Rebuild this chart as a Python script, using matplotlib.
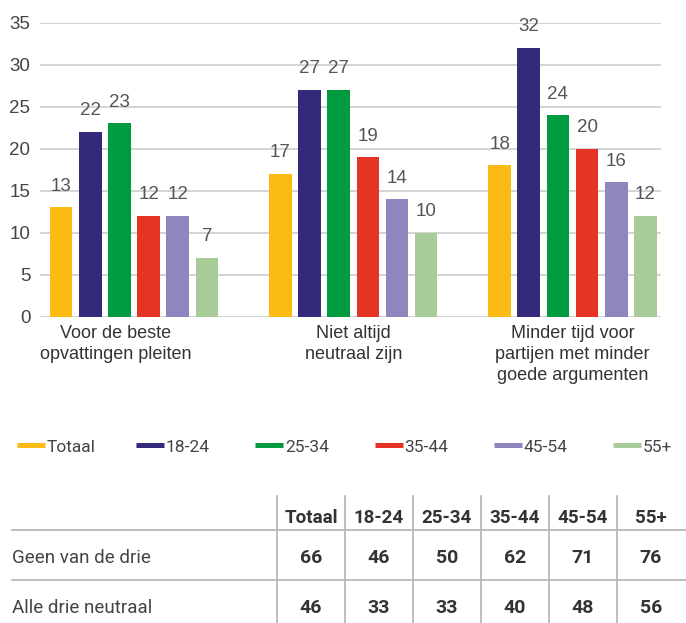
import matplotlib
matplotlib.use("Agg")
import matplotlib.pyplot as plt
import matplotlib.transforms as mtransforms
from matplotlib.lines import Line2D
import numpy as np

# 数据
categories = ["Voor de beste\nopvattingen pleiten",
              "Niet altijd\nneutraal zijn",
              "Minder tijd voor\npartijen met minder\ngoede argumenten"]
series_names = ["Totaal", "18-24", "25-34", "35-44", "45-54", "55+"]
totaal = [13, 17, 18]
age_18_24 = [22, 27, 32]
age_25_34 = [23, 27, 24]
age_35_44 = [12, 19, 20]
age_45_54 = [12, 14, 16]
age_55_plus = [7, 10, 12]
series_values = [totaal, age_18_24, age_25_34, age_35_44, age_45_54, age_55_plus]
colors = ["#FBBA14", "#332A7C", "#009B3E", "#E63323", "#8E86BC", "#A8CC98"]
y_ticks = [0, 5, 10, 15, 20, 25, 30, 35]

table_header = ["Totaal", "18-24", "25-34", "35-44", "45-54", "55+"]
table_rows = ["Geen van de drie", "Alle drie neutraal"]
geen_van_de_drie = [66, 46, 50, 62, 71, 76]
alle_drie_neutraal = [46, 33, 33, 40, 48, 56]
table_values = [geen_van_de_drie, alle_drie_neutraal]

W, H = 686, 623
chart_font = ["Liberation Sans", "DejaVu Sans"]
table_font = ["Roboto", "DejaVu Sans"]
text_col = "#444444"

fig = plt.figure(figsize=(W / 100, H / 100), dpi=100)

# 柱状图区域
ax = fig.add_axes([40 / W, 1 - 316.7 / H, 621 / W, 294 / H])
x = np.arange(len(categories))
bar_w = 0.103
step = 0.133
for k, (vals, col) in enumerate(zip(series_values, colors)):
    pos = x + (k - 2.5) * step
    ax.bar(pos, vals, width=bar_w, color=col, zorder=3)
    for px, v in zip(pos, vals):
        ax.annotate(str(v), (px, v), xytext=(0, 9), textcoords="offset points",
                    ha="center", va="bottom", fontsize=13.5, color="#555555",
                    family=chart_font)

ax.set_ylim(0, 35)
ax.set_xlim(-0.4287, 2.4036)
ax.set_yticks(y_ticks)
ax.set_yticklabels([str(t) for t in y_ticks], family=chart_font, fontsize=13.5, color=text_col)
ax.set_xticks(x)
ax.set_xticklabels(categories, family=chart_font, fontsize=13, color="#333333",
                   linespacing=1.3)
ax.tick_params(axis="both", length=0)
ax.tick_params(axis="y", pad=7)
ax.tick_params(axis="x", pad=6)
ax.yaxis.grid(True, color="#cccccc", lw=1.2, zorder=0)
for s in ax.spines.values():
    s.set_visible(False)
# 第一个类别标签在原图中稍微偏左
first = ax.get_xticklabels()[0]
first.set_transform(first.get_transform() +
                    mtransforms.ScaledTranslation(-0.18, 0, fig.dpi_scale_trans))

# 图例和表格用像素坐标的覆盖层
ov = fig.add_axes([0, 0, 1, 1], zorder=-1)
ov.set_xlim(0, W)
ov.set_ylim(H, 0)
ov.axis("off")

for i, (name, col) in enumerate(zip(series_names, colors)):
    x0 = 17 + 119.2 * i
    ov.add_line(Line2D([x0, x0 + 28], [445, 445], color=col, lw=3.6, solid_capstyle="butt"))
    ov.text(x0 + 29.5, 447, name, ha="left", va="center", fontsize=12.5,
            color=text_col, family=table_font)

col_lines = [277, 345, 413, 481, 549, 617]
col_centers = [c + 34 for c in col_lines]
for cx in col_lines:
    ov.add_line(Line2D([cx, cx], [496, H], color="#b3b3b3", lw=1.2))
for hy in [530, 580]:
    ov.add_line(Line2D([12, W], [hy, hy], color="#b3b3b3", lw=1.2))

for cx, h in zip(col_centers, table_header):
    ov.text(cx, 518, h, ha="center", va="center", fontsize=13.5, fontweight="bold",
            color="#333333", family=table_font)
for ry, label, vals in zip([558, 608], table_rows, table_values):
    ov.text(12, ry, label, ha="left", va="center", fontsize=13.5, color=text_col,
            family=table_font)
    for cx, v in zip(col_centers, vals):
        ov.text(cx, ry, str(v), ha="center", va="center", fontsize=14,
                fontweight="bold", color="#333333", family=table_font)

fig.savefig("out.png", dpi=100)
